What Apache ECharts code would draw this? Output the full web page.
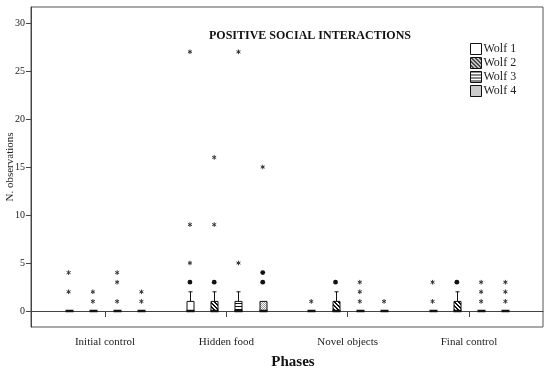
<!DOCTYPE html>
<html>
<head>
<meta charset="utf-8">
<script src="https://cdn.jsdelivr.net/npm/echarts@6/dist/echarts.min.js"></script>
<style>html,body{margin:0;padding:0;background:#fff}#c{width:550px;height:373px}</style>
</head>
<body>
<div id="c"></div>
<script>
// ---------- DATA ----------
const phases = ['Initial control', 'Hidden food', 'Novel objects', 'Final control'];
const wolves = ['Wolf 1', 'Wolf 2', 'Wolf 3', 'Wolf 4'];
const yTicks = [0, 5, 10, 15, 20, 25, 30];
// box stats per phase: [lower whisker, Q1, median, Q3, upper whisker]
const wolf1Box = [[0,0,0,0,0],[0,0,0,1,2],[0,0,0,0,0],[0,0,0,0,0]];
const wolf2Box = [[0,0,0,0,0],[0,0,0,1,2],[0,0,0,1,2],[0,0,0,1,2]];
const wolf3Box = [[0,0,0,0,0],[0,0,0,1,2],[0,0,0,0,0],[0,0,0,0,0]];
const wolf4Box = [[0,0,0,0,0],[0,0,0,1,1],[0,0,0,0,0],[0,0,0,0,0]];
// outliers (circles) per phase
const wolf1Outliers = [[],[3],[],[]];
const wolf2Outliers = [[],[3],[3],[3]];
const wolf3Outliers = [[],[],[],[]];
const wolf4Outliers = [[],[3,4],[],[]];
// extremes (asterisks) per phase
const wolf1Extremes = [[2,4],[5,9,27],[1],[1,3]];
const wolf2Extremes = [[1,2],[9,16],[],[]];
const wolf3Extremes = [[1,3,4],[5,27],[1,2,3],[1,2,3]];
const wolf4Extremes = [[1,2],[15],[1],[1,2,3]];

// ---------- LAYOUT / STYLE ----------
const boxes = [wolf1Box, wolf2Box, wolf3Box, wolf4Box];
const outliers = [wolf1Outliers, wolf2Outliers, wolf3Outliers, wolf4Outliers];
const extremes = [wolf1Extremes, wolf2Extremes, wolf3Extremes, wolf4Extremes];
const wolfOffset = [-0.3, -0.1, 0.1, 0.3];
const SERIF = '"Liberation Serif", "DejaVu Serif", serif';

function makePattern(kind) {
  const c = document.createElement('canvas');
  const ctx = c.getContext('2d');
  if (kind === 'white') {
    c.width = c.height = 2; ctx.fillStyle = '#fff'; ctx.fillRect(0,0,2,2);
  } else if (kind === 'diag') {
    c.width = c.height = 4; ctx.fillStyle = '#fff'; ctx.fillRect(0,0,4,4);
    ctx.fillStyle = '#111';
    for (let i = 0; i < 4; i++) { ctx.fillRect(i, i, 1, 1); ctx.fillRect((i + 1) % 4, i, 1, 1); }
  } else if (kind === 'horiz') {
    c.width = 3; c.height = 3; ctx.fillStyle = '#fff'; ctx.fillRect(0,0,3,3);
    ctx.fillStyle = '#111'; ctx.fillRect(0, 0, 3, 1);
  } else {
    c.width = c.height = 2; ctx.fillStyle = '#fff'; ctx.fillRect(0,0,2,2);
    ctx.fillStyle = '#999'; ctx.fillRect(0,0,1,1); ctx.fillRect(1,1,1,1);
  }
  return { image: c, repeat: 'repeat' };
}
const patterns = [makePattern('white'), makePattern('diag'), makePattern('horiz'), makePattern('dots')];

function boxRender(w) {
  return function (params, api) {
    const x = api.value(0);
    const p = [1,2,3,4,5].map(i => api.coord([x, api.value(i)]));
    const px = Math.round(p[0][0]) + 0.5;
    const yLo = p[0][1], yQ1 = p[1][1], yMed = p[2][1], yQ3 = p[3][1], yHi = p[4][1];
    const ch = [];
    const stroke = { stroke: '#111', lineWidth: 1 };
    if (yHi < yQ3 - 0.5) {
      ch.push({ type: 'line', shape: { x1: px, y1: yQ3, x2: px, y2: yHi }, style: stroke });
      ch.push({ type: 'line', shape: { x1: px - 2, y1: yHi, x2: px + 2, y2: yHi }, style: stroke });
    }
    if (yLo > yQ1 + 0.5) {
      ch.push({ type: 'line', shape: { x1: px, y1: yQ1, x2: px, y2: yLo }, style: stroke });
      ch.push({ type: 'line', shape: { x1: px - 2, y1: yLo, x2: px + 2, y2: yLo }, style: stroke });
    }
    if (yQ1 - yQ3 > 0.5) {
      ch.push({ type: 'rect', shape: { x: px - 3.5, y: yQ3, width: 7, height: yQ1 - yQ3 },
        style: { fill: patterns[w], stroke: '#111', lineWidth: 1 } });
    }
    ch.push({ type: 'line', shape: { x1: px - 4, y1: yMed, x2: px + 4, y2: yMed },
      style: { stroke: '#111', lineWidth: 2.5 } });
    return { type: 'group', children: ch };
  };
}

function markRender(params, api) {
  const c = api.coord([api.value(0), api.value(1)]);
  const kind = api.value(2);
  if (kind === 0) {
    return { type: 'circle', shape: { cx: c[0], cy: c[1], r: 2.4 }, style: { fill: '#111' } };
  }
  const r = 2.3, ch = [];
  for (let k = 0; k < 3; k++) {
    const a = Math.PI / 2 + k * Math.PI / 3;
    ch.push({ type: 'line', shape: { x1: c[0] - r * Math.cos(a), y1: c[1] - r * Math.sin(a),
      x2: c[0] + r * Math.cos(a), y2: c[1] + r * Math.sin(a) }, style: { stroke: '#333', lineWidth: 1 } });
  }
  return { type: 'group', children: ch };
}

const series = [];
wolves.forEach((name, w) => {
  series.push({
    name: name, type: 'custom', renderItem: boxRender(w),
    itemStyle: { color: patterns[w], borderColor: '#111', borderWidth: 1 },
    encode: { x: 0, y: [1,2,3,4,5] },
    data: boxes[w].map((b, i) => [i + 1 + wolfOffset[w]].concat(b))
  });
});
const markData = [];
wolves.forEach((name, w) => {
  phases.forEach((ph, i) => {
    outliers[w][i].forEach(v => markData.push([i + 1 + wolfOffset[w], v, 0]));
    extremes[w][i].forEach(v => markData.push([i + 1 + wolfOffset[w], v, 1]));
  });
});
series.push({ name: 'marks', type: 'custom', renderItem: markRender, encode: { x: 0, y: 1 }, data: markData, z: 3 });

const chart = echarts.init(document.getElementById('c'), null, { renderer: 'canvas' });
chart.setOption({
  animation: false,
  backgroundColor: '#fff',
  title: {
    text: 'POSITIVE SOCIAL INTERACTIONS', left: 305, top: 25, textAlign: 'center',
    textStyle: { fontFamily: SERIF, fontSize: 12, fontWeight: 'bold', color: '#111' }
  },
  legend: {
    data: wolves, orient: 'vertical', left: 465, top: 38, itemWidth: 11, itemHeight: 11, itemGap: 2,
    icon: 'rect',
    itemStyle: { borderColor: '#111', borderWidth: 1 },
    textStyle: { fontFamily: SERIF, fontSize: 12, color: '#222', padding: [0, 0, 0, -3] },
    selectedMode: false
  },
  grid: { left: 31, right: 7, top: 7, bottom: 46, show: true, borderColor: '#555', borderWidth: 1,
    containLabel: false, outerBoundsMode: 'none' },
  xAxis: {
    type: 'value', min: 0.39, max: 4.61,
    name: 'Phases', nameLocation: 'middle', nameGap: 28, nameMoveOverlap: false,
    nameTextStyle: { fontFamily: SERIF, fontSize: 15, fontWeight: 'bold', color: '#111', padding: [0, 0, 0, 12] },
    axisLine: { show: true, lineStyle: { color: '#444' } },
    axisTick: { show: true, customValues: [1,2,3,4], length: 6, lineStyle: { color: '#444' } },
    axisLabel: { customValues: [1,2,3,4], formatter: v => phases[Math.round(v) - 1],
      fontFamily: SERIF, fontSize: 11, color: '#222', margin: 10 },
    splitLine: { show: false }
  },
  yAxis: {
    type: 'value', min: -5 / 3, max: 95 / 3,
    name: 'N. observations', nameLocation: 'middle', nameGap: 15, nameRotate: 90, nameMoveOverlap: false,
    nameTextStyle: { fontFamily: SERIF, fontSize: 11, color: '#222' },
    axisLine: { show: true, lineStyle: { color: '#444' } },
    axisTick: { show: true, customValues: yTicks, length: 5, lineStyle: { color: '#444' } },
    axisLabel: { customValues: yTicks, fontFamily: SERIF, fontSize: 10, color: '#222', margin: 6 },
    splitLine: { show: false }
  },
  series: series
});
</script>
</body>
</html>
